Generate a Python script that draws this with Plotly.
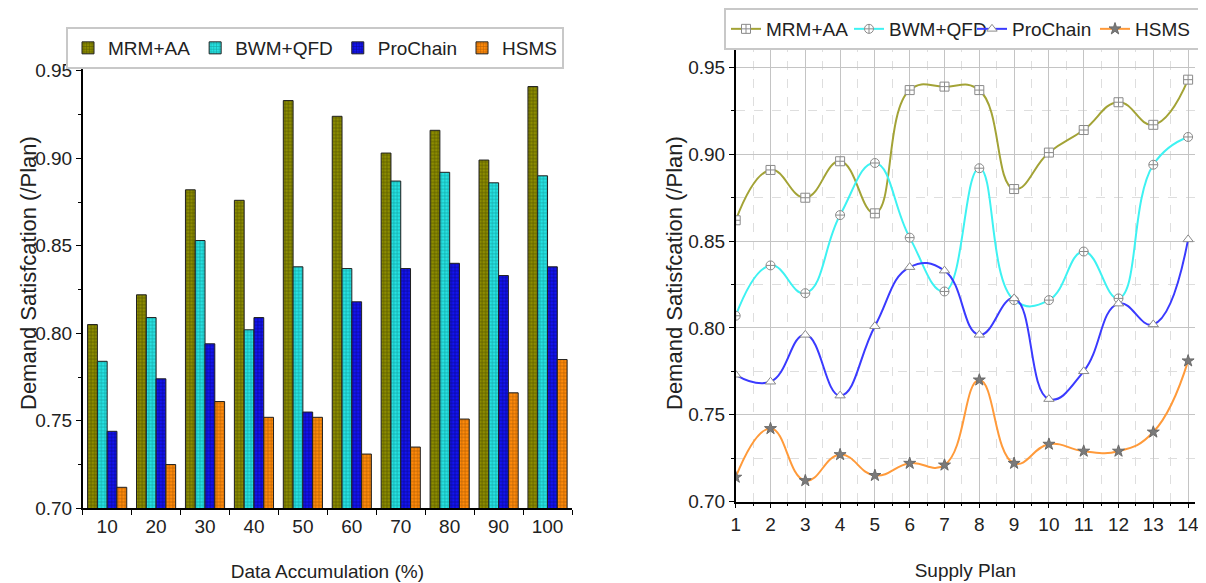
import plotly.graph_objects as go

# ---------------- data ----------------
accum_labels = ["10", "20", "30", "40", "50", "60", "70", "80", "90", "100"]
bar_mrm = [0.805, 0.822, 0.882, 0.876, 0.933, 0.924, 0.903, 0.916, 0.899, 0.941]
bar_bwm = [0.784, 0.809, 0.853, 0.802, 0.838, 0.837, 0.887, 0.892, 0.886, 0.890]
bar_pro = [0.744, 0.774, 0.794, 0.809, 0.755, 0.818, 0.837, 0.840, 0.833, 0.838]
bar_hsms = [0.712, 0.725, 0.761, 0.752, 0.752, 0.731, 0.735, 0.751, 0.766, 0.785]

plans = list(range(1, 15))
line_mrm = [0.862, 0.891, 0.875, 0.896, 0.866, 0.937, 0.939, 0.937, 0.880, 0.901, 0.914, 0.930, 0.917, 0.943]
line_bwm = [0.807, 0.836, 0.820, 0.865, 0.895, 0.852, 0.821, 0.892, 0.816, 0.816, 0.844, 0.817, 0.894, 0.910]
line_pro = [0.773, 0.769, 0.796, 0.761, 0.801, 0.835, 0.833, 0.796, 0.817, 0.759, 0.775, 0.814, 0.802, 0.851]
line_hsms = [0.714, 0.742, 0.712, 0.727, 0.715, 0.722, 0.721, 0.770, 0.722, 0.733, 0.729, 0.729, 0.740, 0.781]

y_ticks = [0.70, 0.75, 0.80, 0.85, 0.90, 0.95]
y_tick_text = ["0.70", "0.75", "0.80", "0.85", "0.90", "0.95"]

series_names = ["MRM+AA", "BWM+QFD", "ProChain", "HSMS"]
bar_fill = ["#8c8c00", "#26e2e2", "#1414f0", "#ff8a0a"]
bar_grid = ["#2e2e00", "#087070", "#00004a", "#7a3c00"]
line_colors = ["#a3a336", "#3ef2f2", "#3a3aff", "#ff9a3a"]
symbols = ["square-cross", "circle-cross", "triangle-up", "star"]

# The page body has an 8px margin; the figure is sized and laid out to compensate
OFF = 8
W, H = 1206 - OFF, 583 - OFF


def px(x):
    return (x - OFF) / W


def py(y):
    return 1 - (y - OFF) / H


FONT = "Liberation Sans, Arial, sans-serif"
TXT = "#222222"

fig = go.Figure()

for name, vals, fc, gc in zip(series_names, [bar_mrm, bar_bwm, bar_pro, bar_hsms], bar_fill, bar_grid):
    fig.add_trace(go.Bar(
        x=accum_labels, y=vals, name=name, xaxis="x", yaxis="y",
        marker=dict(color=fc, line=dict(color="#202020", width=1),
                    pattern=dict(shape="+", fgcolor=gc, size=3.4, solidity=0.38)),
        legend="legend",
    ))

for name, vals, lc, sym in zip(series_names, [line_mrm, line_bwm, line_pro, line_hsms], line_colors, symbols):
    is_star = sym == "star"
    fig.add_trace(go.Scatter(
        x=plans, y=vals, name=name, xaxis="x2", yaxis="y2",
        mode="lines+markers",
        line=dict(color=lc, width=2, shape="spline", smoothing=1.3),
        marker=dict(symbol=sym, size=9,
                    color="#7a7a7a" if is_star else "white",
                    line=dict(color="#6a6a6a" if is_star else "#8a8a8a", width=1)),
        legend="legend2",
    ))

tickfont = dict(family=FONT, size=19, color=TXT)

fig.update_layout(
    width=W, height=H,
    margin=dict(l=0, r=0, t=0, b=0, autoexpand=False),
    paper_bgcolor="white", plot_bgcolor="white",
    barmode="group", bargap=0.2, bargroupgap=0,
    font=dict(family=FONT, size=19, color=TXT),
    xaxis=dict(
        domain=[px(82.7), px(572)], anchor="y",
        type="category", range=[-0.5, 9.5],
        showline=True, linecolor="black", linewidth=1.5,
        ticks="outside", tickson="boundaries", ticklen=5, tickcolor="black",
        showgrid=False, tickfont=tickfont,
        title=dict(text="Data Accumulation (%)", font=dict(family=FONT, size=19, color=TXT), standoff=29),
        automargin=False,
    ),
    yaxis=dict(
        domain=[py(508.3), py(61.7)], anchor="x",
        range=[0.70, 0.9552], tickvals=y_ticks, ticktext=y_tick_text,
        showline=True, linecolor="black", linewidth=1.5,
        ticks="outside", ticklen=5, tickcolor="black",
        minor=dict(dtick=0.025, tick0=0.70, ticks="outside", ticklen=3, tickcolor="black", showgrid=False),
        showgrid=False, zeroline=False, tickfont=tickfont,
        automargin=False,
    ),
    xaxis2=dict(
        domain=[px(735.7), px(1195)], anchor="y2",
        range=[1, 14.198], tickvals=plans, ticktext=[str(p) for p in plans],
        showline=True, linecolor="black", linewidth=1.5,
        ticks="outside", ticklen=5, tickcolor="black",
        showgrid=True, gridcolor="#c4c4c4", gridwidth=1,
        minor=dict(dtick=0.5, tick0=1, ticks="outside", ticklen=3, tickcolor="black",
                   showgrid=True, gridcolor="#dedede", griddash="dash", gridwidth=1),
        zeroline=False, tickfont=tickfont,
        title=dict(text="Supply Plan", font=dict(family=FONT, size=19, color=TXT), standoff=30),
        automargin=False,
    ),
    yaxis2=dict(
        domain=[py(501.5), py(42.7)], anchor="x2",
        range=[0.70, 0.9643], tickvals=y_ticks, ticktext=y_tick_text,
        showline=True, linecolor="black", linewidth=1.5,
        ticks="outside", ticklen=5, tickcolor="black",
        showgrid=True, gridcolor="#c4c4c4", gridwidth=1,
        minor=dict(dtick=0.025, tick0=0.70, ticks="outside", ticklen=3, tickcolor="black",
                   showgrid=True, gridcolor="#dedede", griddash="dash", gridwidth=1),
        zeroline=False, tickfont=tickfont,
        automargin=False,
    ),
    legend=dict(
        orientation="h", x=px(66), y=py(27), xanchor="left", yanchor="top",
        bgcolor="white", bordercolor="#c8c8c8", borderwidth=2,
        font=dict(family=FONT, size=19, color=TXT),
        itemwidth=30, tracegroupgap=0,
    ),
    legend2=dict(
        orientation="h", x=px(724), y=py(8), xanchor="left", yanchor="top",
        bgcolor="white", bordercolor="#c8c8c8", borderwidth=2,
        font=dict(family=FONT, size=19, color=TXT),
        entrywidth=78, entrywidthmode="pixels", itemwidth=30,
        tracegroupgap=0,
    ),
    annotations=[
        dict(text="Demand Satisfcation (/Plan)", textangle=-90, showarrow=False,
             xref="paper", yref="paper", x=px(28), y=py(273), xanchor="center", yanchor="middle",
             font=dict(family=FONT, size=22, color=TXT)),
        dict(text="Demand Satisfcation (/Plan)", textangle=-90, showarrow=False,
             xref="paper", yref="paper", x=px(674), y=py(273), xanchor="center", yanchor="middle",
             font=dict(family=FONT, size=22, color=TXT)),
    ],
)

fig.write_html("out.html", config={"displayModeBar": False})
